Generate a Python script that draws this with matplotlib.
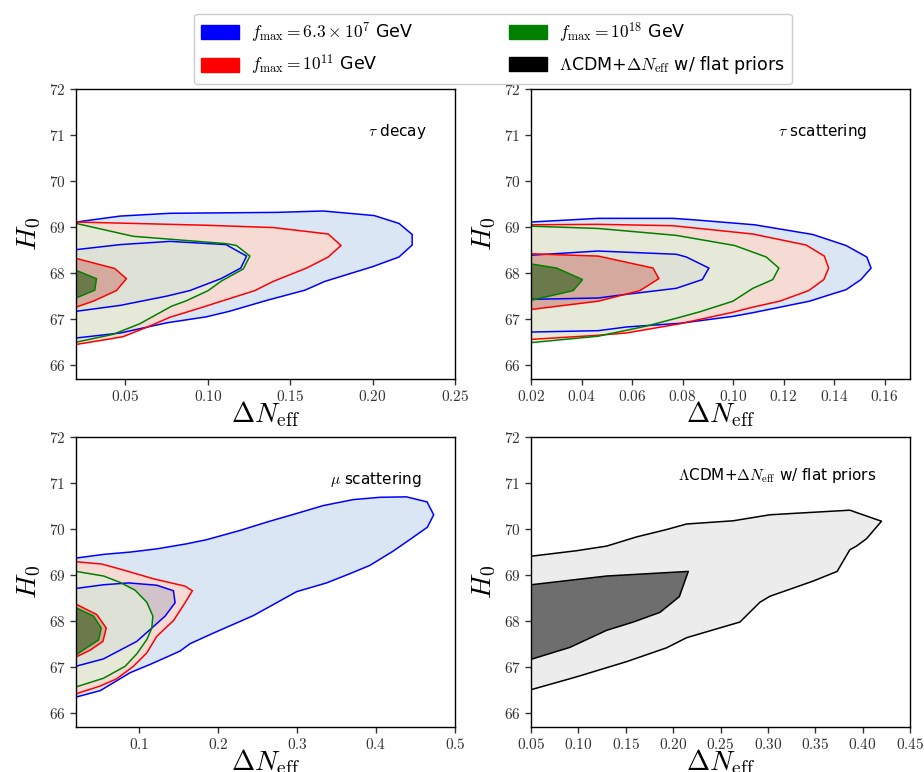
import matplotlib
matplotlib.use("Agg")
import matplotlib.pyplot as plt
from matplotlib.patches import Patch

plt.rcParams["mathtext.fontset"] = "cm"
plt.rcParams["font.family"] = ["DejaVu Sans"]

# ---------------- data ----------------
ylim = (65.7, 72.0)
yticks = [66, 67, 68, 69, 70, 71, 72]
ytick_labels = ["66", "67", "68", "69", "70", "71", "72"]

# Panel 1: tau decay
p1_title = r"$\tau$ decay"
p1_xlim = (0.02, 0.25)
p1_xticks = [0.05, 0.10, 0.15, 0.20, 0.25]
p1_xtick_labels = ["0.05", "0.10", "0.15", "0.20", "0.25"]
p1_blue_outer_x = [0.02, 0.047, 0.077, 0.142, 0.170, 0.201, 0.216, 0.224, 0.224, 0.216, 0.200, 0.171, 0.159, 0.136, 0.113, 0.099, 0.075, 0.047, 0.02]
p1_blue_outer_y = [69.11, 69.24, 69.30, 69.32, 69.35, 69.25, 69.08, 68.84, 68.61, 68.35, 68.14, 67.82, 67.63, 67.41, 67.17, 67.05, 66.92, 66.70, 66.59]
p1_blue_inner_x = [0.02, 0.047, 0.077, 0.111, 0.1235, 0.120, 0.108, 0.089, 0.075, 0.047, 0.02]
p1_blue_inner_y = [68.51, 68.62, 68.69, 68.62, 68.37, 68.11, 67.88, 67.62, 67.50, 67.30, 67.17]
p1_red_outer_x = [0.02, 0.0547, 0.0992, 0.1397, 0.1731, 0.1808, 0.1731, 0.1599, 0.1397, 0.1285, 0.0951, 0.0769, 0.0648, 0.0486, 0.0405, 0.02]
p1_red_outer_y = [69.11, 69.08, 69.04, 68.99, 68.85, 68.60, 68.35, 68.11, 67.82, 67.62, 67.24, 67.04, 66.85, 66.62, 66.57, 66.45]
p1_red_inner_x = [0.02, 0.0435, 0.0506, 0.0445, 0.0304, 0.02]
p1_red_inner_y = [68.32, 68.10, 67.88, 67.62, 67.39, 67.26]
p1_green_outer_x = [0.02, 0.0547, 0.1113, 0.1174, 0.1255, 0.1215, 0.1083, 0.1002, 0.087, 0.0779, 0.0587, 0.0425, 0.02]
p1_green_outer_y = [69.08, 68.80, 68.64, 68.60, 68.37, 68.09, 67.83, 67.62, 67.40, 67.28, 66.90, 66.67, 66.50]
p1_green_inner_x = [0.02, 0.0324, 0.0314, 0.02]
p1_green_inner_y = [68.06, 67.88, 67.63, 67.46]

# Panel 2: tau scattering
p2_title = r"$\tau$ scattering"
p2_xlim = (0.02, 0.17)
p2_xticks = [0.02, 0.04, 0.06, 0.08, 0.10, 0.12, 0.14, 0.16]
p2_xtick_labels = ["0.02", "0.04", "0.06", "0.08", "0.10", "0.12", "0.14", "0.16"]
p2_blue_outer_x = [0.02, 0.0466, 0.0762, 0.0841, 0.1085, 0.1315, 0.1447, 0.1529, 0.1546, 0.1506, 0.1447, 0.1388, 0.1302, 0.1078, 0.0999, 0.0789, 0.0578, 0.0466, 0.02]
p2_blue_outer_y = [69.11, 69.19, 69.19, 69.16, 69.05, 68.84, 68.60, 68.35, 68.11, 67.86, 67.64, 67.54, 67.39, 67.14, 67.06, 66.91, 66.83, 66.75, 66.72]
p2_blue_inner_x = [0.02, 0.0466, 0.0775, 0.0815, 0.0904, 0.0878, 0.0775, 0.0578, 0.0466, 0.02]
p2_blue_inner_y = [68.39, 68.48, 68.41, 68.35, 68.11, 67.86, 67.67, 67.54, 67.46, 67.43]
p2_red_outer_x = [0.02, 0.0466, 0.0762, 0.1078, 0.1289, 0.1361, 0.1378, 0.1359, 0.1299, 0.1184, 0.1078, 0.0999, 0.0789, 0.0578, 0.0466, 0.02]
p2_red_outer_y = [69.05, 69.06, 69.03, 68.85, 68.61, 68.37, 68.11, 67.86, 67.62, 67.39, 67.26, 67.15, 66.90, 66.70, 66.65, 66.56]
p2_red_inner_x = [0.02, 0.0466, 0.0683, 0.0706, 0.0631, 0.0466, 0.02]
p2_red_inner_y = [68.42, 68.37, 68.11, 67.88, 67.62, 67.39, 67.21]
p2_green_outer_x = [0.02, 0.0466, 0.0775, 0.1006, 0.1131, 0.1181, 0.1157, 0.1078, 0.0999, 0.0868, 0.0775, 0.0657, 0.0466, 0.02]
p2_green_outer_y = [69.02, 68.97, 68.82, 68.60, 68.35, 68.11, 67.86, 67.67, 67.39, 67.16, 67.02, 66.85, 66.63, 66.49]
p2_green_inner_x = [0.02, 0.0301, 0.0404, 0.0367, 0.02]
p2_green_inner_y = [68.20, 68.11, 67.86, 67.62, 67.41]

# Panel 3: mu scattering
p3_title = r"$\mu$ scattering"
p3_xlim = (0.02, 0.5)
p3_xticks = [0.1, 0.2, 0.3, 0.4, 0.5]
p3_xtick_labels = ["0.1", "0.2", "0.3", "0.4", "0.5"]
p3_blue_outer_x = [0.02, 0.0549, 0.0886, 0.1223, 0.1603, 0.1856, 0.2277, 0.2614, 0.3036, 0.3331, 0.371, 0.4047, 0.4385, 0.4646, 0.473, 0.465, 0.4427, 0.4216, 0.3921, 0.3668, 0.3373, 0.2994, 0.2446, 0.194, 0.1645, 0.1518, 0.135, 0.1139, 0.0886, 0.0507, 0.02]
p3_blue_outer_y = [69.37, 69.45, 69.50, 69.57, 69.68, 69.77, 69.97, 70.15, 70.36, 70.51, 70.64, 70.69, 70.70, 70.59, 70.31, 70.04, 69.77, 69.52, 69.21, 69.03, 68.83, 68.64, 68.12, 67.74, 67.51, 67.35, 67.22, 67.06, 66.88, 66.49, 66.35]
p3_blue_inner_x = [0.02, 0.0549, 0.0865, 0.1223, 0.1434, 0.1455, 0.1329, 0.116, 0.097, 0.0549, 0.02]
p3_blue_inner_y = [68.71, 68.79, 68.83, 68.78, 68.66, 68.40, 68.11, 67.85, 67.56, 67.18, 67.02]
p3_red_outer_x = [0.02, 0.0528, 0.0802, 0.1181, 0.1582, 0.1674, 0.1582, 0.1434, 0.1223, 0.1097, 0.0928, 0.0718, 0.0507, 0.02]
p3_red_outer_y = [69.29, 69.24, 69.11, 68.92, 68.76, 68.66, 68.40, 68.01, 67.67, 67.31, 67.02, 66.75, 66.59, 66.42]
p3_red_inner_x = [0.02, 0.0464, 0.0583, 0.0541, 0.038, 0.02]
p3_red_inner_y = [68.37, 68.14, 67.85, 67.56, 67.37, 67.22]
p3_green_outer_x = [0.02, 0.0549, 0.076, 0.095, 0.1097, 0.1173, 0.116, 0.1097, 0.097, 0.0823, 0.0549, 0.02]
p3_green_outer_y = [69.08, 68.98, 68.84, 68.67, 68.41, 68.11, 67.85, 67.60, 67.29, 67.02, 66.76, 66.57]
p3_green_inner_x = [0.02, 0.0422, 0.0519, 0.0486, 0.02]
p3_green_inner_y = [68.29, 68.11, 67.85, 67.59, 67.27]

# Panel 4: LCDM + dNeff flat priors
p4_title = r"$\Lambda$CDM+$\Delta N_{\rm eff}$ w/ flat priors"
p4_xlim = (0.05, 0.45)
p4_xticks = [0.05, 0.10, 0.15, 0.20, 0.25, 0.30, 0.35, 0.40, 0.45]
p4_xtick_labels = ["0.05", "0.10", "0.15", "0.20", "0.25", "0.30", "0.35", "0.40", "0.45"]
p4_outer_x = [0.05, 0.0982, 0.1298, 0.1615, 0.1931, 0.2142, 0.2634, 0.3021, 0.3267, 0.3865, 0.4199, 0.4041, 0.3935, 0.3865, 0.3731, 0.3478, 0.3021, 0.2916, 0.2705, 0.2142, 0.1931, 0.1509, 0.0982, 0.05]
p4_outer_y = [69.41, 69.53, 69.63, 69.83, 69.99, 70.11, 70.18, 70.31, 70.34, 70.41, 70.17, 69.79, 69.63, 69.55, 69.08, 68.87, 68.54, 68.41, 67.98, 67.64, 67.42, 67.12, 66.79, 66.51]
p4_inner_x = [0.05, 0.1298, 0.216, 0.2065, 0.1861, 0.1579, 0.1298, 0.0911, 0.05]
p4_inner_y = [68.79, 68.98, 69.08, 68.53, 68.19, 67.98, 67.80, 67.43, 67.17]

legend_labels = [
    r"$f_{\rm max} = 6.3\times10^{7}$ GeV",
    r"$f_{\rm max} = 10^{11}$ GeV",
    r"$f_{\rm max} = 10^{18}$ GeV",
    r"$\Lambda$CDM+$\Delta N_{\rm eff}$ w/ flat priors",
]
legend_colors = ["#0000ff", "#ff0000", "#008000", "#000000"]

# ---------------- styling ----------------
W, H = 924, 772
fig = plt.figure(figsize=(W / 100, H / 100), dpi=100)

def rect(l, t, r, b):
    return [l / W, 1 - b / H, (r - l) / W, (b - t) / H]

ax1 = fig.add_axes(rect(76, 89, 455, 379))
ax2 = fig.add_axes(rect(531, 89, 910, 379))
ax3 = fig.add_axes(rect(76, 437, 455, 727))
ax4 = fig.add_axes(rect(531, 437, 910, 727))

c_blue_out = "#dae6f4"
c_red_out = "#f6dbd4"
c_blue_in = "#8f99bd"
c_green_out = "#e2efdb"
c_red_in = "#d4aa9e"
c_green_in = "#6c7a4b"
LW = 1.1


def draw_fm(ax, bo, bi, ro, ri, go, gi):
    ax.fill(*bo, color=c_blue_out, lw=0, zorder=1)
    ax.fill(*ro, color=c_red_out, lw=0, zorder=2)
    ax.fill(*bi, color=c_blue_in, alpha=0.35, lw=0, zorder=3)
    ax.fill(*go, color=c_green_out, alpha=0.7, lw=0, zorder=4)
    ax.fill(*ri, color=c_red_in, lw=0, zorder=5)
    ax.fill(*gi, color=c_green_in, lw=0, zorder=6)
    for (xs, ys), col in [(bo, "#0000ff"), (bi, "#0000ff"), (ro, "#ff0000"), (ri, "#ff0000"), (go, "#008000"), (gi, "#008000")]:
        ax.plot(xs, ys, color=col, lw=LW, zorder=10, solid_joinstyle="miter")


draw_fm(ax1, (p1_blue_outer_x, p1_blue_outer_y), (p1_blue_inner_x, p1_blue_inner_y),
        (p1_red_outer_x, p1_red_outer_y), (p1_red_inner_x, p1_red_inner_y),
        (p1_green_outer_x, p1_green_outer_y), (p1_green_inner_x, p1_green_inner_y))
draw_fm(ax2, (p2_blue_outer_x, p2_blue_outer_y), (p2_blue_inner_x, p2_blue_inner_y),
        (p2_red_outer_x, p2_red_outer_y), (p2_red_inner_x, p2_red_inner_y),
        (p2_green_outer_x, p2_green_outer_y), (p2_green_inner_x, p2_green_inner_y))
draw_fm(ax3, (p3_blue_outer_x, p3_blue_outer_y), (p3_blue_inner_x, p3_blue_inner_y),
        (p3_red_outer_x, p3_red_outer_y), (p3_red_inner_x, p3_red_inner_y),
        (p3_green_outer_x, p3_green_outer_y), (p3_green_inner_x, p3_green_inner_y))

ax4.fill(p4_outer_x, p4_outer_y, facecolor="#ececec", edgecolor="none", zorder=1)
ax4.fill(p4_inner_x, p4_inner_y, facecolor="#6e6e6e", edgecolor="none", zorder=2)
ax4.plot(p4_outer_x, p4_outer_y, color="k", lw=LW, zorder=10)
ax4.plot(p4_inner_x, p4_inner_y, color="k", lw=LW, zorder=10)

panels = [
    (ax1, p1_xlim, p1_xticks, p1_xtick_labels, p1_title, (0.926, 0.855)),
    (ax2, p2_xlim, p2_xticks, p2_xtick_labels, p2_title, (0.887, 0.855)),
    (ax3, p3_xlim, p3_xticks, p3_xtick_labels, p3_title, (0.912, 0.854)),
    (ax4, p4_xlim, p4_xticks, p4_xtick_labels, p4_title, (0.912, 0.866)),
]
for ax, xl, xt, xtl, title, pos in panels:
    ax.set_xlim(*xl)
    ax.set_ylim(*ylim)
    ax.set_xticks(xt, labels=["$%s$" % s for s in xtl])
    ax.set_yticks(yticks, labels=["$%s$" % s for s in ytick_labels])
    ax.tick_params(direction="out", length=4.5, width=1, labelsize=11, colors="#333333", pad=3)
    for sp in ax.spines.values():
        sp.set_linewidth(1.0)
        sp.set_zorder(20)
    ax.set_xlabel(r"$\Delta N_{\rm eff}$", fontsize=20, labelpad=-3.5)
    ax.set_ylabel(r"$H_0$", fontsize=20, labelpad=4)
    ax.text(pos[0], pos[1], title, transform=ax.transAxes, ha="right", va="center", fontsize=11)

handles = [Patch(facecolor=c, edgecolor=c) for c in legend_colors]
fig.legend(handles, legend_labels, ncol=2, loc="upper center", bbox_to_anchor=(493 / W, 1 - 5 / H),
           fontsize=12.5, columnspacing=5.5, handlelength=2.2, handleheight=0.85, handletextpad=0.7,
           framealpha=1, edgecolor="#cccccc")

fig.savefig("out.png", dpi=100)
